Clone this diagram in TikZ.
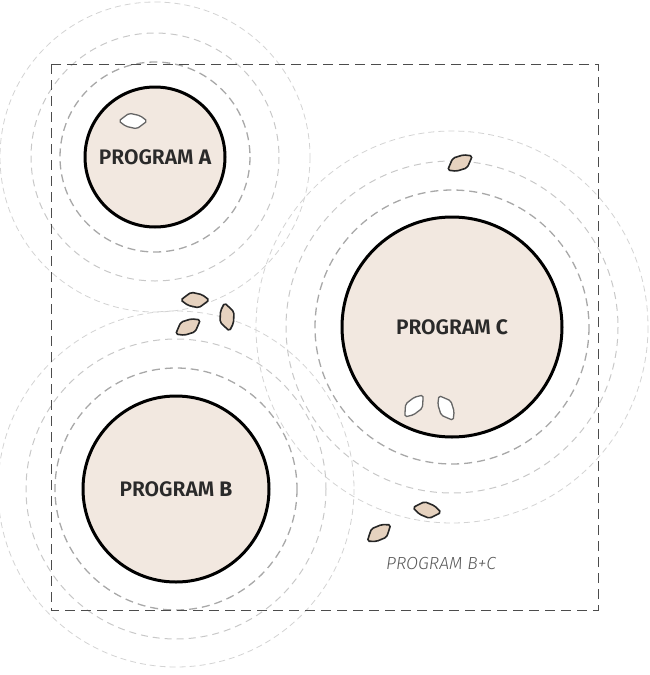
\documentclass[tikz,border=0pt]{standalone}
\usepackage{fontspec}
\setmainfont{Fira Sans}
\newfontfamily\semib{Fira Sans SemiBold}
\newfontfamily\boldf{Fira Sans Bold}
\newfontfamily\lightit{Fira Sans Light Italic}
\definecolor{bodyfill}{HTML}{F2E8E0}
\definecolor{tanfill}{HTML}{E6D2BF}
\definecolor{ringdark}{HTML}{A8A8A8}
\definecolor{ringlight}{HTML}{C8C8C8}
\definecolor{txt}{HTML}{2A2A2A}
\tikzset{
  prog/.style={circle,draw=black,line width=3pt,fill=bodyfill,inner sep=0pt},
  ringin/.style={draw=ringdark,line width=1.3pt,dash pattern=on 8pt off 5pt},
  ringmid/.style={draw=ringlight,line width=1pt,dash pattern=on 7pt off 5pt},
  ringout/.style={draw=ringlight!80,line width=0.8pt,dash pattern=on 6pt off 4pt},
  frame/.style={draw=black!70,line width=1pt,dash pattern=on 10pt off 6pt},
  tanblob/.style={fill=tanfill,draw=black!85,line width=1.6pt},
  whiteblob/.style={fill=white,draw=black!60,line width=1.3pt},
  lbl/.style={font=\semib\fontsize{21}{24}\selectfont,text=txt}
}
\newcommand\blobat[4]{% x, y, angle, style
  \draw[#4,shift={(#1,#2)},rotate=#3,rounded corners=1.8pt]
    (-14,2.5) -- (-9,-3) -- (-5,-7) -- (6,-6.5) -- (14,-2.5) -- (9,3) -- (5,7) -- (-6,6.5) -- cycle;}
\begin{document}
\begin{tikzpicture}[x=1pt,y=-1pt]
\useasboundingbox (0,0) rectangle (649,675);
% rings A
\draw[ringin] (155,157) circle (95);
\draw[ringmid] (155,157) circle (124);
\draw[ringout] (155,157) circle (155);
% rings C
\draw[ringin] (452,327) circle (137);
\draw[ringmid] (452,327) circle (166);
\draw[ringout] (452,327) circle (196);
% rings B
\draw[ringin] (176,489) circle (121);
\draw[ringmid] (176,489) circle (150);
\draw[ringout] (176,489) circle (178);
% frame
\draw[frame] (51,64) rectangle (598,610);
% programs
\node[prog,minimum size=140pt] (A) at (155,157) {};
\node[prog,minimum size=220pt] (C) at (452,327) {};
\node[prog,minimum size=186pt] (B) at (176,489) {};
\node[lbl] (la) at (A.center) {PROGRAM {\boldf A}};
\node[lbl] (lb) at (B.center) {PROGRAM {\boldf B}};
\node[lbl] (lc) at (C.center) {PROGRAM {\boldf C}};
\node[font=\lightit\fontsize{17.5}{20}\selectfont,text=black!65] (lbc) at (441,563) {PROGRAM B+C};
% blobs
\blobat{133}{121}{-10}{whiteblob}
\blobat{195}{300}{-10}{tanblob}
\blobat{188}{327}{20}{tanblob}
\blobat{227}{317}{90}{tanblob}
\blobat{460}{163}{20}{tanblob}
\blobat{414}{406}{40}{whiteblob}
\blobat{446}{408}{-70}{whiteblob}
\blobat{427}{510}{-20}{tanblob}
\blobat{379}{533}{25}{tanblob}
\end{tikzpicture}
\end{document}
